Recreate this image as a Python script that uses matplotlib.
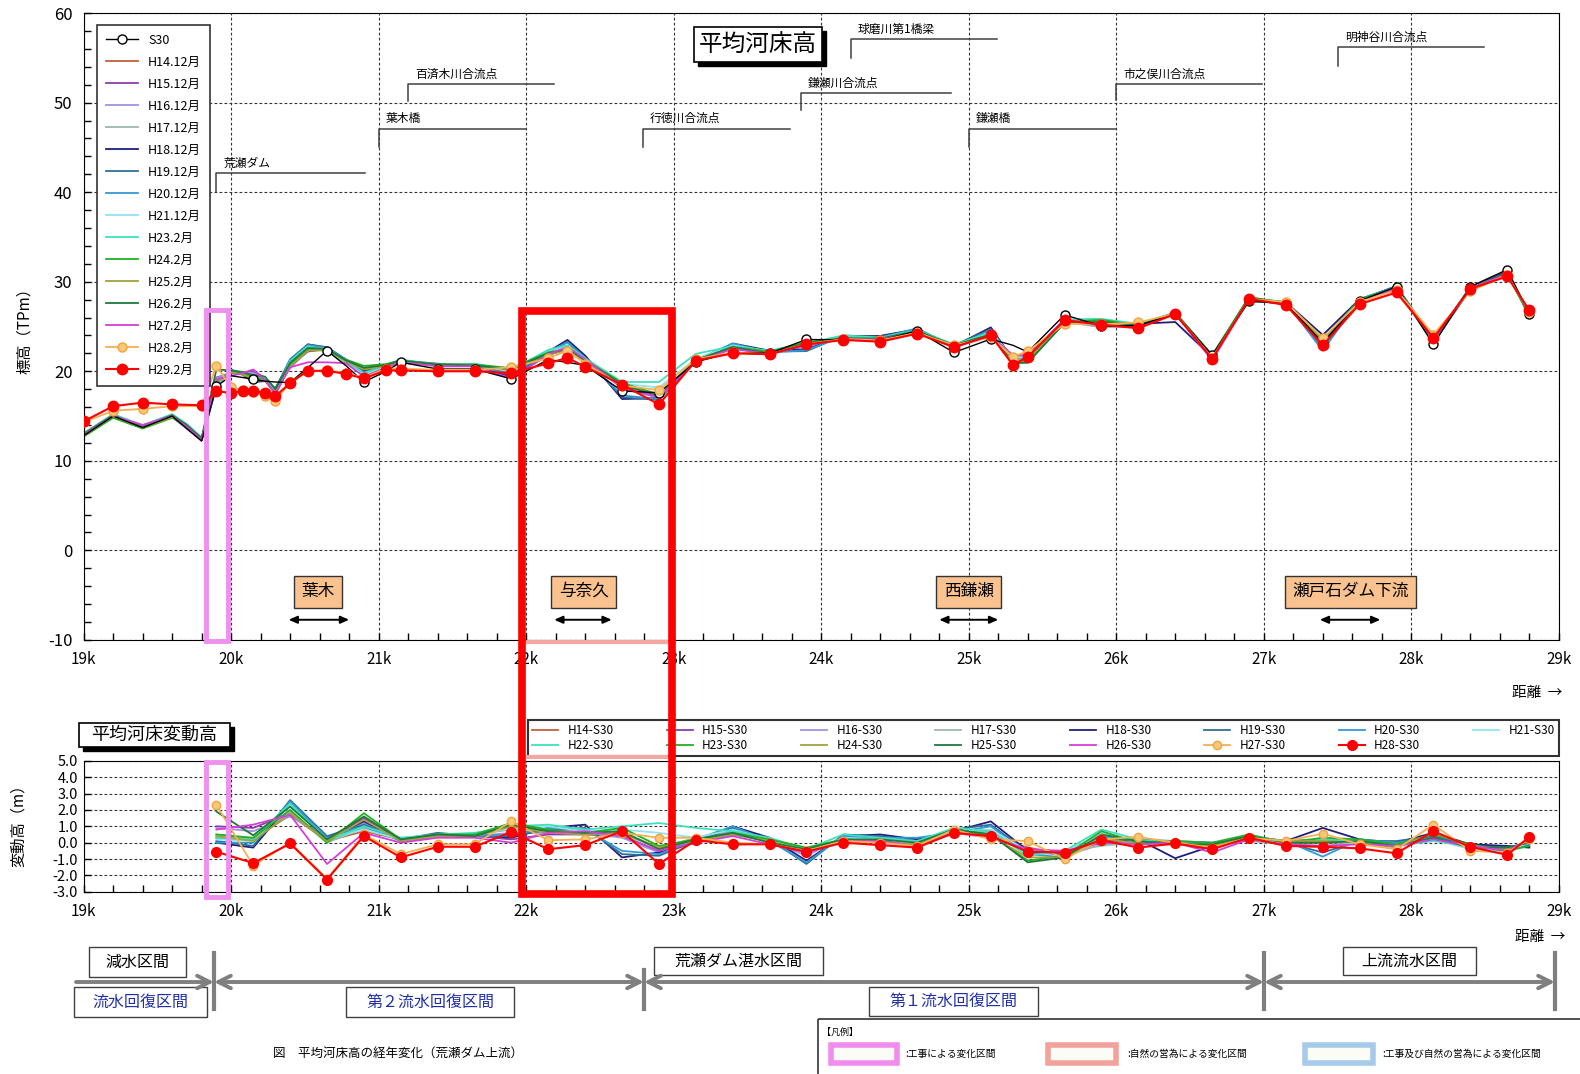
import matplotlib
matplotlib.use("Agg")
import matplotlib.pyplot as plt
import numpy as np
from matplotlib.patches import Rectangle
from matplotlib.ticker import MultipleLocator, FuncFormatter

plt.rcParams['font.family'] = ['Noto Sans CJK JP', 'DejaVu Sans']
plt.rcParams['axes.unicode_minus'] = False

# distance (k) of the cross sections
x_top = [19.0, 19.2, 19.4, 19.6, 19.7, 19.8, 19.9, 20.0, 20.08, 20.15, 20.23, 20.3,
         20.4, 20.52, 20.65, 20.78, 20.9, 21.05, 21.15, 21.4, 21.65, 21.9,
         22.15, 22.28, 22.4, 22.65, 22.9, 23.15, 23.4, 23.65, 23.9,
         24.15, 24.4, 24.65, 24.9, 25.15, 25.3, 25.4, 25.65, 25.9,
         26.15, 26.4, 26.65, 26.9, 27.15, 27.4, 27.65, 27.9,
         28.15, 28.4, 28.65, 28.8]
# sections used for the change plot (Hxx - S30)
x_diff = [19.9, 20.15, 20.4, 20.65, 20.9, 21.15, 21.4, 21.65, 21.9, 22.15, 22.4, 22.65,
          22.9, 23.15, 23.4, 23.65, 23.9, 24.15, 24.4, 24.65, 24.9, 25.15, 25.4, 25.65,
          25.9, 26.15, 26.4, 26.65, 26.9, 27.15, 27.4, 27.65, 27.9, 28.15, 28.4, 28.65, 28.8]

s30 = [12.8, 15.0, 13.7, 15.0, 13.6, 12.2,
       18.3, 19.5, 19.3, 19.1, 18.9, 18.8,
       18.75, 20.4, 22.3, 20.6, 18.8,
       20.0, 21.0, 20.25, 20.25, 19.15,
       21.3, 21.0, 20.65, 17.8, 17.6,
       21.05, 22.1, 22.0, 23.55,
       23.5, 23.45, 24.5, 22.1,
       23.6, 22.9, 22.15, 26.3, 25.05,
       25.1, 26.45, 21.8, 27.8,
       27.6, 23.15, 27.85, 29.45,
       23.0, 29.45, 31.35, 26.45]
h14 = [12.9, 15.1, 13.9, 15.1, 13.9, 12.5,
       18.6, 19.9, 19.7, 19.3, 19.0, 17.8,
       20.45, 22.3, 22.4, 20.9, 19.5,
       20.5, 21.2, 20.75, 20.75, 20.15,
       22.0, 22.4, 21.25, 18.4, 17.3,
       21.25, 22.7, 22.2, 23.05,
       23.7, 23.65, 24.5, 22.7,
       24.1, 21.7, 21.85, 25.6, 25.15,
       25.2, 26.45, 21.6, 28.0,
       27.6, 23.15, 27.85, 29.25,
       23.4, 29.25, 30.85, 26.55]
h15 = [13.0, 14.9, 13.7, 14.9, 13.7, 12.3,
       19.3, 19.8, 19.9, 20.0, 19.3, 18.0,
       20.55, 22.2, 22.5, 21.2, 20.3,
       20.6, 21.1, 20.65, 20.65, 19.35,
       21.8, 22.5, 21.15, 18.2, 17.1,
       21.15, 22.6, 22.1, 22.95,
       23.6, 23.55, 24.4, 22.8,
       24.0, 21.5, 21.65, 25.7, 25.05,
       25.1, 26.55, 21.5, 28.1,
       27.7, 23.35, 27.95, 29.35,
       23.3, 29.35, 31.05, 26.45]
h16 = [12.8, 15.0, 13.8, 15.0, 13.8, 12.4,
       19.2, 19.9, 19.8, 19.8, 19.2, 17.9,
       20.35, 22.4, 22.6, 21.1, 20.0,
       20.6, 21.2, 20.75, 20.65, 19.75,
       21.9, 22.7, 21.25, 18.1, 17.0,
       21.25, 22.8, 22.1, 22.75,
       23.8, 23.85, 24.6, 22.6,
       24.2, 21.6, 21.75, 25.5, 24.95,
       25.0, 26.35, 21.7, 28.0,
       27.6, 23.25, 27.75, 29.45,
       23.5, 29.15, 30.95, 26.25]
h17 = [13.1, 15.2, 14.0, 15.2, 14.0, 12.6,
       18.8, 20.0, 19.8, 19.3, 19.1, 17.6,
       20.65, 22.6, 22.3, 20.9, 19.7,
       20.7, 21.3, 20.65, 20.75, 19.95,
       22.0, 22.6, 21.35, 18.3, 17.3,
       21.35, 22.9, 22.0, 23.05,
       23.7, 23.75, 24.3, 22.7,
       24.3, 21.4, 21.55, 25.8, 24.85,
       25.2, 26.45, 21.8, 27.9,
       27.5, 22.95, 27.85, 29.25,
       23.2, 29.25, 30.75, 26.45]
h18 = [12.9, 15.0, 13.9, 15.0, 13.7, 12.3,
       18.3, 20.2, 19.6, 18.8, 18.9, 18.1,
       21.15, 23.0, 22.6, 21.2, 20.1,
       20.7, 21.2, 20.75, 20.75, 19.45,
       22.2, 23.5, 21.75, 16.9, 17.0,
       21.05, 23.1, 22.3, 22.45,
       23.9, 23.95, 24.7, 22.8,
       24.9, 21.3, 21.65, 25.7, 25.25,
       25.3, 25.5, 21.6, 28.2,
       27.7, 24.05, 28.05, 29.45,
       23.6, 29.35, 31.15, 26.15]
h19 = [12.8, 14.9, 13.8, 14.9, 13.6, 12.3,
       18.4, 20.1, 19.7, 18.9, 19.0, 18.0,
       21.35, 23.0, 22.7, 21.3, 19.9,
       20.6, 21.2, 20.85, 20.65, 19.55,
       22.1, 23.3, 21.55, 17.1, 16.8,
       21.15, 23.0, 22.2, 22.25,
       24.0, 23.85, 24.6, 22.9,
       24.7, 21.3, 21.55, 25.6, 25.35,
       25.2, 26.45, 21.7, 28.1,
       27.6, 22.55, 27.95, 29.55,
       23.4, 29.25, 31.05, 26.25]
h20 = [13.0, 15.1, 13.9, 15.0, 13.8, 12.5,
       18.3, 20.1, 19.8, 19.1, 19.1, 17.9,
       21.25, 22.9, 22.6, 21.3, 19.8,
       20.6, 21.1, 20.75, 20.65, 19.65,
       22.2, 23.2, 21.45, 17.3, 16.9,
       21.25, 23.1, 22.1, 22.35,
       23.9, 23.75, 24.8, 22.7,
       24.6, 21.2, 21.45, 25.4, 25.45,
       25.3, 26.55, 21.8, 28.0,
       27.7, 22.3, 28.05, 29.45,
       23.3, 29.15, 30.95, 26.35]
h21 = [12.9, 15.0, 13.7, 15.1, 13.9, 12.4,
       18.5, 20.0, 19.8, 19.2, 19.2, 17.6,
       21.05, 22.7, 22.5, 21.0, 19.6,
       20.5, 21.2, 20.65, 20.75, 20.05,
       22.3, 22.8, 21.35, 18.6, 18.2,
       21.35, 22.9, 22.2, 22.95,
       23.8, 23.65, 24.5, 22.8,
       24.4, 21.5, 21.65, 25.7, 25.65,
       25.2, 26.45, 21.6, 28.1,
       27.5, 22.85, 27.85, 29.35,
       23.2, 29.05, 30.85, 26.45]
h23 = [13.0, 15.2, 13.9, 15.2, 14.1, 12.6,
       18.6, 20.1, 19.9, 19.3, 19.3, 17.5,
       21.15, 22.8, 22.4, 21.1, 19.8,
       20.7, 21.3, 20.75, 20.85, 20.15,
       22.4, 22.9, 21.45, 18.8, 18.8,
       21.95, 22.8, 22.3, 23.15,
       24.0, 23.75, 24.6, 23.0,
       24.3, 21.3, 21.35, 25.8, 25.85,
       25.3, 26.35, 21.7, 28.2,
       27.7, 23.35, 27.95, 29.25,
       23.1, 29.25, 30.75, 26.65]
h24 = [12.7, 14.8, 13.6, 14.8, 13.9, 12.5,
       18.8, 20.0, 19.7, 19.4, 19.0, 17.4,
       20.75, 22.4, 22.3, 21.3, 20.6,
       20.8, 21.2, 20.75, 20.75, 20.35,
       22.1, 22.5, 21.25, 18.7, 17.4,
       21.25, 22.7, 22.2, 23.25,
       23.7, 23.55, 24.3, 22.9,
       24.1, 21.0, 21.05, 25.5, 25.75,
       25.1, 26.55, 21.8, 28.3,
       27.6, 23.45, 28.05, 29.35,
       23.5, 29.35, 30.85, 26.25]
h25 = [12.8, 15.0, 13.7, 14.9, 13.8, 12.4,
       18.7, 19.9, 19.6, 19.2, 18.9, 17.6,
       20.55, 22.3, 22.4, 21.1, 20.2,
       20.6, 21.1, 20.65, 20.65, 20.15,
       21.9, 22.3, 21.15, 18.4, 17.3,
       21.15, 22.6, 22.1, 23.05,
       23.6, 23.45, 24.4, 22.8,
       24.0, 21.2, 21.25, 25.4, 25.35,
       25.0, 26.45, 21.6, 28.1,
       27.7, 23.25, 27.85, 29.15,
       23.6, 29.25, 30.95, 26.55]
h26 = [13.0, 15.1, 13.8, 15.1, 14.0, 12.5,
       20.2, 20.1, 19.9, 19.55, 19.4, 18.0,
       20.95, 22.6, 22.5, 21.2, 20.4,
       20.7, 21.2, 20.75, 20.65, 20.25,
       22.0, 22.5, 21.25, 18.5, 17.2,
       21.25, 22.7, 22.0, 23.15,
       23.7, 23.65, 24.5, 22.9,
       24.1, 20.9, 20.95, 25.4, 25.55,
       25.2, 26.35, 21.7, 28.2,
       27.6, 23.15, 27.95, 29.25,
       23.3, 29.15, 31.05, 26.45]
h27 = [12.9, 15.0, 14.0, 15.0, 13.8, 12.3,
       19.1, 19.5, 19.8, 20.2, 19.0, 17.5,
       20.45, 21.0, 21.0, 20.9, 19.4,
       20.4, 21.0, 20.55, 20.55, 19.15,
       21.9, 22.7, 21.35, 18.2, 17.1,
       21.05, 22.5, 21.9, 22.95,
       23.6, 23.55, 24.3, 22.7,
       23.9, 21.8, 21.75, 25.8, 25.05,
       25.0, 26.45, 21.2, 28.0,
       27.5, 22.95, 27.75, 29.25,
       23.2, 29.25, 30.85, 26.65]
h28 = [14.3, 15.6, 15.8, 16.1, 16.1, 16.1,
       20.6, 18.2, 17.9, 17.7, 17.2, 16.7,
       18.75, 20.0, 20.1, 19.8, 19.3,
       20.3, 20.3, 20.15, 20.15, 20.45,
       21.45, 22.3, 20.85, 18.4, 17.9,
       21.35, 22.1, 21.9, 23.05,
       23.6, 23.45, 24.3, 22.9,
       23.8, 21.6, 22.25, 25.3, 25.25,
       25.45, 26.45, 21.5, 28.1,
       27.7, 23.7, 27.75, 29.05,
       24.1, 28.95, 30.75, 26.65]
h29 = [14.4, 16.1, 16.5, 16.3, 16.25, 16.2,
       17.75, 17.6, 17.8, 17.85, 17.6, 17.2,
       18.7, 20.05, 20.05, 19.7, 19.2,
       20.1, 20.1, 20.0, 20.0, 19.8,
       20.9, 21.5, 20.5, 18.5, 16.3,
       21.2, 22.0, 21.9, 23.0,
       23.5, 23.3, 24.2, 22.7,
       24.0, 20.7, 21.6, 25.7, 25.2,
       24.8, 26.4, 21.4, 28.1,
       27.4, 22.9, 27.5, 28.8,
       23.7, 29.2, 30.6, 26.8]

top_labels = ["H14.12月", "H15.12月", "H16.12月", "H17.12月", "H18.12月", "H19.12月",
              "H20.12月", "H21.12月", "H23.2月", "H24.2月", "H25.2月", "H26.2月",
              "H27.2月", "H28.2月", "H29.2月"]
diff_labels = ["H14-S30", "H15-S30", "H16-S30", "H17-S30", "H18-S30", "H19-S30",
               "H20-S30", "H21-S30", "H22-S30", "H23-S30", "H24-S30", "H25-S30",
               "H26-S30", "H27-S30", "H28-S30"]
series = [h14, h15, h16, h17, h18, h19, h20, h21, h23, h24, h25, h26, h27, h28, h29]
colors = ["#C0613A", "#8A3FA8", "#9D92E6", "#9DB8AC", "#1F1F7A", "#2F6F95",
          "#3399D6", "#8FE3F2", "#3FE0C0", "#22B022", "#A3A33A", "#1E7B3A",
          "#D63FD6", "#F5B04F", "#FF0000"]

fig = plt.figure(figsize=(15.8, 10.74), dpi=100)
W, H = 1580, 1074


def frac(x0, y0, x1, y1):
    return [x0 / W, 1 - y1 / H, (x1 - x0) / W, (y1 - y0) / H]


ax = fig.add_axes(frac(83.6, 13.1, 1558.8, 639.9))
ax2 = fig.add_axes(frac(83.6, 760.8, 1558.8, 891.8))

xt = np.array(x_top)
s30_arr = np.array(s30)
in_diff = np.isin(np.round(xt, 2), np.round(x_diff, 2))
mk_all = list(np.round(xt, 2) != 19.7)

# ---- top: average bed elevation
ax.plot(xt, s30_arr, color="black", lw=1.0, marker="o", ms=6.5, mfc="white",
        mec="black", markevery=list(in_diff), label="S30", zorder=3)
for lab, vals, col in zip(top_labels[:13], series[:13], colors[:13]):
    ax.plot(xt, vals, color=col, lw=1.3, label=lab, zorder=2)
ax.plot(xt, h28, color=colors[13], lw=1.3, marker="o", ms=6.5, mfc="#F9C77A",
        mec="#EFA53E", markevery=mk_all, label=top_labels[13], zorder=4)
ax.plot(xt, h29, color=colors[14], lw=1.5, marker="o", ms=7.5, mfc="#FF0000",
        mec="#FF0000", markevery=mk_all, label=top_labels[14], zorder=5)

ax.set_xlim(19, 29)
ax.set_ylim(-10, 60)
ax.xaxis.set_major_locator(MultipleLocator(1))
ax.xaxis.set_minor_locator(MultipleLocator(0.2))
ax.yaxis.set_major_locator(MultipleLocator(10))
ax.yaxis.set_minor_locator(MultipleLocator(2))
ax.xaxis.set_major_formatter(FuncFormatter(lambda v, p: f"{v:.0f}k"))
ax.tick_params(which="both", direction="in", length=5, width=1)
ax.tick_params(axis="x", labelsize=11, pad=8)
ax.tick_params(axis="y", labelsize=12, pad=8)
ax.grid(True, which="major", color="#333333", linestyle=(0, (2.5, 2)), lw=0.8)

leg = ax.legend(loc="upper left", bbox_to_anchor=(0.009, 0.981), borderaxespad=0,
                fontsize=9, labelspacing=0.72, handlelength=2.6, borderpad=0.7,
                fancybox=False, framealpha=1, edgecolor="#333333")
leg.get_frame().set_linewidth(1.2)

# landmarks with leader lines
marks = [("荒瀬ダム", 19.90, 40.0, 42.1, 20.91),
         ("葉木橋", 21.0, 45.1, 47.1, 22.0),
         ("百済木川合流点", 21.2, 50.2, 52.1, 22.19),
         ("行徳川合流点", 22.79, 45.1, 47.1, 23.79),
         ("鎌瀬川合流点", 23.86, 49.2, 51.1, 24.88),
         ("球磨川第1橋梁", 24.2, 55.0, 57.1, 25.19),
         ("鎌瀬橋", 25.0, 45.1, 47.1, 26.0),
         ("市之俣川合流点", 26.0, 50.3, 52.1, 26.99),
         ("明神谷川合流点", 27.5, 54.1, 56.2, 28.49)]
for name, x0, y0, y1, x1 in marks:
    ax.plot([x0, x0, x1], [y0, y1, y1], color="#404040", lw=1.1, zorder=6)
    ax.text(x0 + 0.05, y1 + 0.4, name, fontsize=8.5, va="bottom", ha="left", zorder=6)

# reach labels
reaches = [("葉木", 20.59, 20.39, 20.80), ("与奈久", 22.39, 22.19, 22.58),
           ("西鎌瀬", 25.0, 24.80, 25.20), ("瀬戸石ダム下流", 27.59, 27.38, 27.79)]
for name, xc, xa, xb in reaches:
    ax.text(xc, -4.6, name, fontsize=12, ha="center", va="center", zorder=6,
            bbox=dict(boxstyle="square,pad=0.45", fc="#FAC28F", ec="#333333", lw=1))
    ax.annotate("", xy=(xb, -7.75), xytext=(xa, -7.75),
                arrowprops=dict(arrowstyle="<|-|>,head_length=0.5,head_width=0.22",
                                color="black", lw=1.4, shrinkA=0, shrinkB=0))

ax.add_patch(Rectangle((19.83, -10.1), 0.15, 36.9, fill=False, ec="#EE90EE",
                       lw=3.5, clip_on=False, zorder=7))

# ---- bottom: change from S30
for lab, vals, col in zip(diff_labels[:13], series[:13], colors[:13]):
    d = np.array(vals)[in_diff] - s30_arr[in_diff]
    ax2.plot(xt[in_diff], d, color=col, lw=1.3, label=lab, zorder=2)
d = np.array(h28)[in_diff] - s30_arr[in_diff]
ax2.plot(xt[in_diff], d, color=colors[13], lw=1.3, marker="o", ms=6, mfc="#F9C77A",
         mec="#EFA53E", label=diff_labels[13], zorder=4)
d = np.array(h29)[in_diff] - s30_arr[in_diff]
ax2.plot(xt[in_diff], d, color=colors[14], lw=1.5, marker="o", ms=7, mfc="#FF0000",
         mec="#FF0000", label=diff_labels[14], zorder=5)

ax2.set_xlim(19, 29)
ax2.set_ylim(-3, 5)
ax2.xaxis.set_major_locator(MultipleLocator(1))
ax2.xaxis.set_minor_locator(MultipleLocator(0.2))
ax2.yaxis.set_major_locator(MultipleLocator(1))
ax2.xaxis.set_major_formatter(FuncFormatter(lambda v, p: f"{v:.0f}k"))
ax2.yaxis.set_major_formatter(FuncFormatter(lambda v, p: f"{v:.1f}"))
ax2.tick_params(which="both", direction="in", length=5, width=1)
ax2.tick_params(axis="x", labelsize=11, pad=8)
ax2.tick_params(axis="y", labelsize=10.5, pad=4)
ax2.grid(True, which="major", color="#333333", linestyle=(0, (2.5, 2)), lw=0.8)
ax2.add_patch(Rectangle((19.83, -3.3), 0.15, 8.2, fill=False, ec="#EE90EE",
                        lw=3.5, clip_on=False, zorder=7))

h2, l2 = ax2.get_legend_handles_labels()
order = [0, 8, 1, 9, 2, 10, 3, 11, 4, 12, 5, 13, 6, 14, 7]
leg2 = ax2.legend([h2[i] for i in order], [l2[i] for i in order], ncol=8,
                  loc="lower left", bbox_to_anchor=(0.3013, 1.037, 0.6987, 0.297),
                  mode="expand", borderaxespad=0, fontsize=8.5, handlelength=2.2,
                  labelspacing=0.15, columnspacing=1.0, borderpad=0.35,
                  fancybox=False, framealpha=1, edgecolor="#333333")
leg2.get_frame().set_linewidth(1.5)

# ---- overlay in pixel coordinates
ov = fig.add_axes([0, 0, 1, 1])
ov.set_xlim(0, W)
ov.set_ylim(H, 0)
ov.axis("off")
ov.patch.set_visible(False)
ov.set_zorder(10)


def box(x0, y0, x1, y1, text, color="black", fs=11, shadow=0, ec="#404040", lw=1.0):
    if shadow:
        ov.add_patch(Rectangle((x0 + shadow, y0 + shadow), x1 - x0, y1 - y0,
                               fc="black", ec="black", zorder=1))
    ov.add_patch(Rectangle((x0, y0), x1 - x0, y1 - y0, fc="white", ec=ec, lw=lw, zorder=2))
    ov.text((x0 + x1) / 2, (y0 + y1) / 2, text, color=color, fontsize=fs,
            ha="center", va="center", zorder=3)


box(694, 27, 822, 62, "平均河床高", fs=17, shadow=4, ec="black", lw=1.2)
box(79, 723, 230, 747, "平均河床変動高", fs=13, shadow=4, ec="black", lw=1.2)

fig.text(25 / W, 1 - 327 / H, "標高（TPm）", rotation=90, fontsize=11, ha="center", va="center")
fig.text(18 / W, 1 - 822 / H, "変動高（m）", rotation=90, fontsize=11, ha="center", va="center")
ov.text(1512, 693, "距離  →", fontsize=10.5, ha="left", va="center")
ov.text(1515, 937, "距離  →", fontsize=10.5, ha="left", va="center")

# the framed section of interest
ov.plot([528, 666], [642, 642], color="#F4A6A0", lw=3, zorder=4)
ov.plot([528, 666], [757, 757], color="#F4A6A0", lw=3, zorder=4)
ov.add_patch(Rectangle((522, 311), 150, 583, fill=False, ec="#FF0000", lw=5.5, zorder=9))

# river sections below the chart
gray = "#7F7F7F"
ov.annotate("", xy=(214, 982), xytext=(76, 982),
            arrowprops=dict(arrowstyle="->,head_length=0.9,head_width=0.45", color=gray,
                            lw=2.8, shrinkA=0, shrinkB=0))
for a, b in [(214, 644), (644, 1264), (1264, 1555)]:
    ov.annotate("", xy=(b, 982), xytext=(a, 982),
                arrowprops=dict(arrowstyle="<->,head_length=0.9,head_width=0.45",
                                color=gray, lw=2.8, shrinkA=0, shrinkB=0))
for xv, yv in [(214, 953), (644, 970), (1264, 953), (1555, 953)]:
    ov.plot([xv, xv], [yv, 1009], color=gray, lw=3)

blue = "#1F2FA8"
box(89, 947, 186, 977, "減水区間", fs=11.5)
box(74, 987, 207, 1017, "流水回復区間", color=blue, fs=11.5)
box(346, 987, 514, 1017, "第２流水回復区間", color=blue, fs=11.5)
box(654, 947, 823, 975, "荒瀬ダム湛水区間", fs=11.5)
box(869, 987, 1038, 1016, "第１流水回復区間", color=blue, fs=11.5)
box(1343, 947, 1476, 975, "上流流水区間", fs=11.5)

ov.text(398, 1053, "図　平均河床高の経年変化（荒瀬ダム上流）", fontsize=9, ha="center", va="center")

# legend of the framed sections
ov.add_patch(Rectangle((818, 1019), 780, 70, fill=False, ec="#333333", lw=1.2, clip_on=False))
ov.text(822, 1032, "【凡例】", fontsize=6.5, ha="left", va="center")
for (x0, x1), ec, txt, tx in [((831, 897), "#F08CF0", ":工事による変化区間", 905),
                              ((1048, 1116), "#F2A29A", ":自然の営為による変化区間", 1127),
                              ((1305, 1373), "#A6CBEA", ":工事及び自然の営為による変化区間", 1382)]:
    ov.add_patch(Rectangle((x0, 1045), x1 - x0, 18, fc="#FCFCF6", ec=ec, lw=4))
    ov.text(tx, 1054, txt, fontsize=7, ha="left", va="center")

fig.savefig("out.png", dpi=100)
